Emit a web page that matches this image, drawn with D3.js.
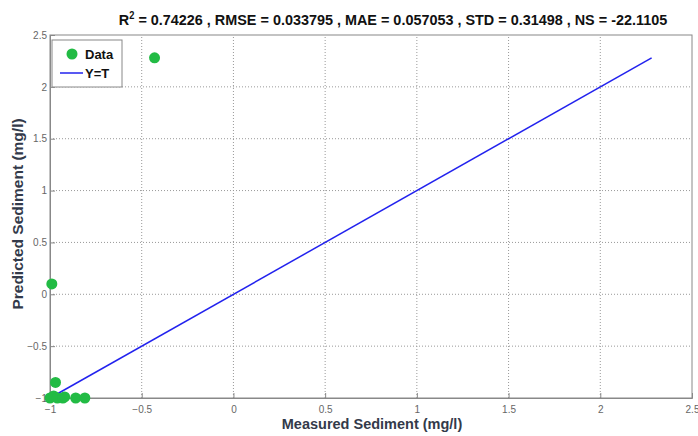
<!DOCTYPE html>
<html>
<head>
<meta charset="utf-8">
<script src="https://cdn.jsdelivr.net/npm/d3@7"></script>
<style>
  body { margin: 0; background: #fff; }
  svg { display: block; font-family: "Liberation Sans", Arial, sans-serif; }
</style>
</head>
<body>
<script>
// data
const measured  = [-0.43, -0.99, -0.97, -1.0, -0.98, -0.96, -0.93, -0.92, -0.86, -0.81];
const predicted = [2.28, 0.10, -0.85, -1.0, -0.98, -1.0, -1.0, -0.99, -1.0, -1.0];
const lineRange = [-1, 2.28];
const xTicks = [-1, -0.5, 0, 0.5, 1, 1.5, 2, 2.5];
const yTicks = [-1, -0.5, 0, 0.5, 1, 1.5, 2, 2.5];

const width = 698, height = 436;
const margin = {top: 35, right: 6, bottom: 38, left: 50};

const svg = d3.select("body").append("svg")
    .attr("width", width)
    .attr("height", height);

const x = d3.scaleLinear().domain([-1, 2.5]).range([margin.left, width - margin.right]);
const y = d3.scaleLinear().domain([-1, 2.5]).range([height - margin.bottom, margin.top]);

// grid
svg.append("g").selectAll("line")
    .data(xTicks.slice(1, -1))
    .enter().append("line")
    .attr("x1", d => x(d)).attr("x2", d => x(d))
    .attr("y1", y(-1)).attr("y2", y(2.5))
    .attr("stroke", "#999").attr("stroke-dasharray", "1,2");
svg.append("g").selectAll("line")
    .data(yTicks.slice(1, -1))
    .enter().append("line")
    .attr("y1", d => y(d)).attr("y2", d => y(d))
    .attr("x1", x(-1)).attr("x2", x(2.5))
    .attr("stroke", "#999").attr("stroke-dasharray", "1,2");

// box
svg.append("rect")
    .attr("x", x(-1)).attr("y", y(2.5))
    .attr("width", x(2.5) - x(-1)).attr("height", y(-1) - y(2.5))
    .attr("fill", "none").attr("stroke", "#888");

// axes (ticks inside)
const xAxis = svg.append("g")
    .attr("transform", `translate(0,${y(-1)})`)
    .call(d3.axisBottom(x).tickValues(xTicks).tickSize(-5).tickPadding(8).tickFormat(d3.format("")));
const yAxis = svg.append("g")
    .attr("transform", `translate(${x(-1)},0)`)
    .call(d3.axisLeft(y).tickValues(yTicks).tickSize(-5).tickPadding(3).tickFormat(d3.format("")));
[xAxis, yAxis].forEach(a => {
    a.select(".domain").attr("stroke", "#888");
    a.selectAll(".tick line").attr("stroke", "#888");
    a.selectAll(".tick text").attr("fill", "#666").style("font-size", "10px");
});

// Y=T line
svg.append("line")
    .attr("x1", x(lineRange[0])).attr("y1", y(lineRange[0]))
    .attr("x2", x(lineRange[1])).attr("y2", y(lineRange[1]))
    .attr("stroke", "#2222ee").attr("stroke-width", 1.5);

// points
svg.append("g").selectAll("circle")
    .data(measured.map((m, i) => [m, predicted[i]]))
    .enter().append("circle")
    .attr("cx", d => x(d[0]))
    .attr("cy", d => y(d[1]))
    .attr("r", 5.5)
    .attr("fill", "#22bb44");

// legend
const lg = svg.append("g").attr("transform", "translate(52,40)");
lg.append("rect").attr("width", 70).attr("height", 47)
    .attr("fill", "#fff").attr("stroke", "#888");
lg.append("circle").attr("cx", 20).attr("cy", 14).attr("r", 5.5).attr("fill", "#22bb44");
lg.append("text").attr("x", 33).attr("y", 19).text("Data")
    .style("font-size", "13px").style("font-weight", "bold").attr("fill", "#111");
lg.append("line").attr("x1", 8).attr("x2", 31).attr("y1", 33).attr("y2", 33)
    .attr("stroke", "#2222ee").attr("stroke-width", 1.5);
lg.append("text").attr("x", 33).attr("y", 38).text("Y=T")
    .style("font-size", "13px").style("font-weight", "bold").attr("fill", "#111");

// title (narrow bold look)
const title = svg.append("text")
    .attr("transform", "translate(393,25) scale(0.93,1)")
    .attr("text-anchor", "middle")
    .style("font-size", "15.5px").style("font-weight", "bold").attr("fill", "#111");
title.append("tspan").text("R");
title.append("tspan").attr("dy", -6).style("font-size", "10px").text("2");
title.append("tspan").attr("dy", 6).text(" = 0.74226 , RMSE = 0.033795 , MAE = 0.057053 , STD = 0.31498 , NS = -22.1105");

// axis labels
svg.append("text")
    .attr("x", 372).attr("y", 429)
    .attr("text-anchor", "middle")
    .style("font-size", "14.5px").style("font-weight", "bold").attr("fill", "#333a4a")
    .text("Measured Sediment (mg/l)");
svg.append("text")
    .attr("transform", `translate(23,214) rotate(-90)`)
    .attr("text-anchor", "middle")
    .style("font-size", "15.5px").style("font-weight", "bold").attr("fill", "#333a4a")
    .text("Predicted Sediment (mg/l)");
</script>
</body>
</html>
